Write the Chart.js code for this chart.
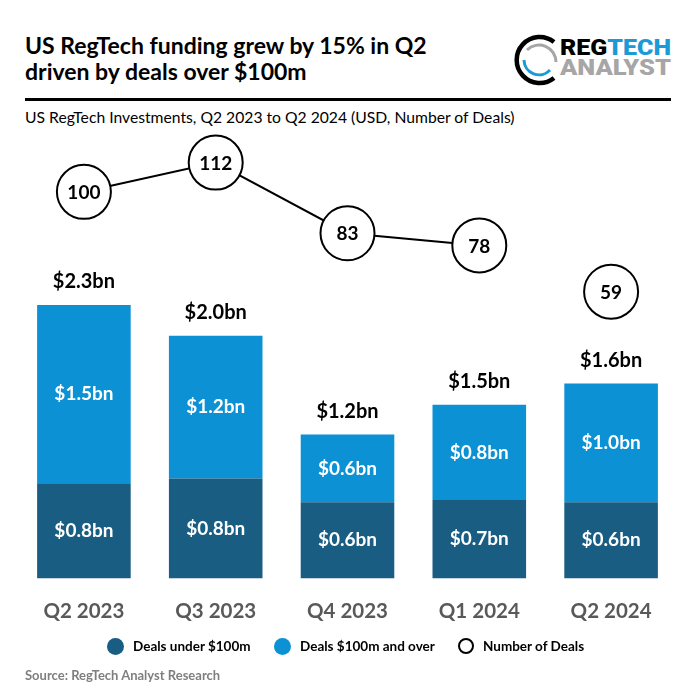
<!DOCTYPE html>
<html>
<head>
<meta charset="utf-8">
<script src="https://cdn.jsdelivr.net/npm/chart.js@4.4.1/dist/chart.umd.min.js"></script>
<style>
  html, body { margin:0; padding:0; background:#fff; }
  body { width:696px; height:696px; position:relative; overflow:hidden; font-family: Lato, "Open Sans", sans-serif; }
  #title { position:absolute; left:25px; top:32px; font-weight:700; font-size:23px; line-height:26px; color:#000; }
  #rule { position:absolute; left:25px; top:98px; width:646px; height:3px; background:#000; }
  #subtitle { position:absolute; left:25px; top:108px; font-size:15.7px; color:#000; }
  #logo { position:absolute; left:510px; top:30px; }
  #chart { position:absolute; left:0; top:0; }
  #legend { position:absolute; top:636px; left:0; width:696px; height:20px; font-weight:700; font-size:13.5px; color:#000; }
  .li { position:absolute; top:0; display:flex; align-items:center; height:20px; }
  .dot { width:17px; height:17px; border-radius:50%; margin-right:9px; box-sizing:border-box; }
  #source { position:absolute; left:25px; top:667px; font-weight:700; font-size:13px; color:#7f7f7f; }
</style>
</head>
<body>
<div id="title">US RegTech funding grew by 15% in Q2<br>driven by deals over $100m</div>
<svg id="logo" width="170" height="60" viewBox="0 0 170 60">
  <path d="M 44 12 A 23 23 0 1 0 44 48" fill="none" stroke="#000" stroke-width="4.5"/>
  <path d="M 14 30 A 15 15 0 0 0 40 40" fill="none" stroke="#1a9ad6" stroke-width="3"/>
  <path d="M 17 20 A 17 17 0 0 1 46 32" fill="none" stroke="#a6a6a6" stroke-width="3"/>
  <text x="50" y="25" font-family="Roboto, sans-serif" font-weight="900" font-size="22" textLength="111" lengthAdjust="spacingAndGlyphs"><tspan fill="#000">REG</tspan><tspan fill="#1a9ad6">TECH</tspan></text>
  <text x="50" y="45" font-family="Roboto, sans-serif" font-weight="900" font-size="22" fill="#a6a6a6" textLength="111" lengthAdjust="spacingAndGlyphs">ANALYST</text>
</svg>
<div id="rule"></div>
<div id="subtitle">US RegTech Investments, Q2 2023 to Q2 2024 (USD, Number of Deals)</div>
<canvas id="chart" width="696" height="696"></canvas>
<div id="legend">
  <div class="li" style="left:107px"><div class="dot" style="background:#195d82"></div>Deals under $100m</div>
  <div class="li" style="left:274px"><div class="dot" style="background:#0b91d4"></div>Deals $100m and over</div>
  <div class="li" style="left:458px"><div class="dot" style="border:2.5px solid #000; width:16px; height:16px;"></div>Number of Deals</div>
</div>
<div id="source">Source: RegTech Analyst Research</div>
<script>
// ---- data ----
const categories = ["Q2 2023", "Q3 2023", "Q4 2023", "Q1 2024", "Q2 2024"];
const dealsUnder100m = [0.80, 0.84, 0.64, 0.66, 0.64];   // USD bn
const dealsOver100m  = [1.50, 1.20, 0.57, 0.80, 1.00];   // USD bn
const numberOfDeals  = [100, 112, 83, 78, 59];

const DARK = "#195d82", LIGHT = "#0b91d4";
const FONT = "Lato, 'Open Sans', sans-serif";

const labelPlugin = {
  id: "labels",
  afterDatasetsDraw(chart) {
    const ctx = chart.ctx;
    ctx.save();
    ctx.textAlign = "center";
    ctx.textBaseline = "middle";
    [1, 2].forEach(di => {
      const ds = chart.data.datasets[di];
      chart.getDatasetMeta(di).data.forEach((el, i) => {
        const p = el.getProps(["x", "y", "base"], true);
        ctx.fillStyle = "#fff";
        ctx.font = "bold 19px " + FONT;
        ctx.fillText("$" + ds.data[i].toFixed(1) + "bn", p.x, (p.y + p.base) / 2);
      });
    });
    chart.getDatasetMeta(2).data.forEach((el, i) => {
      const p = el.getProps(["x", "y"], true);
      const tot = dealsUnder100m[i] + dealsOver100m[i];
      ctx.fillStyle = "#000";
      ctx.font = "bold 20px " + FONT;
      ctx.fillText("$" + tot.toFixed(1) + "bn", p.x, p.y - 23);
    });
    chart.getDatasetMeta(0).data.forEach((el, i) => {
      const p = el.getProps(["x", "y"], true);
      ctx.fillStyle = "#000";
      ctx.font = "bold 19px " + FONT;
      ctx.fillText(String(numberOfDeals[i]), p.x, p.y + 1);
    });
    ctx.restore();
  }
};

new Chart(document.getElementById("chart"), {
  type: "bar",
  data: {
    labels: categories,
    datasets: [
      {
        type: "line", label: "Number of Deals", data: numberOfDeals, yAxisID: "yLine",
        borderColor: "#000", borderWidth: 2, pointRadius: 27, pointBorderWidth: 2,
        pointBackgroundColor: "#fff", pointBorderColor: "#000", clip: false, order: 0,
        segment: { borderColor: c => c.p1DataIndex === 4 ? "rgba(0,0,0,0)" : "#000" }
      },
      { label: "Deals under $100m", data: dealsUnder100m, backgroundColor: DARK, stack: "s", yAxisID: "y", order: 1,
        barPercentage: 0.71, categoryPercentage: 1 },
      { label: "Deals $100m and over", data: dealsOver100m, backgroundColor: LIGHT, stack: "s", yAxisID: "y", order: 1,
        barPercentage: 0.71, categoryPercentage: 1 }
    ]
  },
  options: {
    responsive: false, animation: false, devicePixelRatio: 1,
    layout: { autoPadding: false, padding: { left: 18, right: 19, top: 100, bottom: 51 } },
    plugins: { legend: { display: false }, tooltip: { enabled: false } },
    scales: {
      x: { stacked: true, grid: { display: false, drawTicks: false }, border: { display: false },
           afterFit: s => { s.paddingLeft = 0; s.paddingRight = 0; },
           ticks: { color: "#595959", padding: 21, font: { family: FONT, size: 20.5, weight: "bold" } } },
      y: { stacked: true, display: false, min: 0, max: 4.024 },
      yLine: { display: false, min: -58.7, max: 137.7 }
    }
  },
  plugins: [labelPlugin]
});
</script>
</body>
</html>
